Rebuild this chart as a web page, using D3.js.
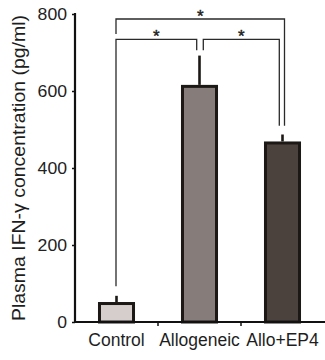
<!DOCTYPE html>
<html><head><meta charset="utf-8">
<script src="https://cdn.jsdelivr.net/npm/d3@7"></script>
<style>body{margin:0;background:#fff}svg{display:block}text{font-family:"Liberation Sans",Arial,sans-serif}</style>
</head><body>
<script>
const categories = ["Control", "Allogeneic", "Allo+EP4"];
const values = [48, 612, 465];
const errors = [20, 80, 22];
const colors = ["#d6cecd", "#867c7a", "#4b423e"];
const yTicks = [0, 200, 400, 600, 800];
const yLabel = "Plasma IFN-\u03b3 concentration (pg/ml)";
// significance brackets: level and leg ends in data units
const bracketFrom = ["Control", "Allogeneic", "Control"];
const bracketTo = ["Allogeneic", "Allo+EP4", "Allo+EP4"];
const bracketLevel = [734, 734, 787];
const bracketLeftEnd = [93, 706, 748];
const bracketRightEnd = [706, 510, 510];
const bracketLabel = ["*", "*", "*"];

const W = 325, H = 360;
const svg = d3.select("body").append("svg").attr("width", W).attr("height", H);

const y = d3.scaleLinear().domain([0, 800]).range([322, 14]);
const xOuter = d3.scaleBand().domain(categories).range([75, 324]);
const x = d3.scaleBand().domain(categories).range([75, 324]).paddingInner(0.59).paddingOuter(0.295);

// bars
svg.selectAll("rect.bar").data(categories).join("rect")
  .attr("class", "bar")
  .attr("x", d => x(d))
  .attr("y", (d, i) => y(values[i]))
  .attr("width", x.bandwidth())
  .attr("height", (d, i) => y(0) - y(values[i]))
  .attr("fill", (d, i) => colors[i])
  .attr("stroke", "#1c1816").attr("stroke-width", 3);

// error bars
svg.selectAll("line.err").data(categories).join("line")
  .attr("class", "err")
  .attr("x1", d => x(d) + x.bandwidth() / 2).attr("x2", d => x(d) + x.bandwidth() / 2)
  .attr("y1", (d, i) => y(values[i]) - 1.5)
  .attr("y2", (d, i) => y(values[i] + errors[i]))
  .attr("stroke", "#1c1816").attr("stroke-width", 2.6);

// y axis
const yAxis = svg.append("g").attr("transform", "translate(75,0)")
  .call(d3.axisLeft(y).tickValues(yTicks).tickSize(3).tickPadding(5));
yAxis.select(".domain").remove();
yAxis.selectAll(".tick line").attr("stroke", "#111").attr("stroke-width", 1.5);
yAxis.selectAll(".tick text").attr("font-size", 16.5).attr("fill", "#222")
  .attr("font-family", '"Liberation Sans",Arial,sans-serif')
  .attr("textLength", d => String(d).length * 9.8).attr("lengthAdjust", "spacingAndGlyphs");
svg.append("line").attr("x1", 75).attr("x2", 75).attr("y1", y(800) - 1).attr("y2", y(0) + 1)
  .attr("stroke", "#111").attr("stroke-width", 2.2);

// x axis
svg.append("line").attr("x1", 74).attr("x2", 325).attr("y1", y(0)).attr("y2", y(0))
  .attr("stroke", "#111").attr("stroke-width", 2.2);
svg.selectAll("line.xt").data(categories.slice(1)).join("line")
  .attr("class", "xt")
  .attr("x1", d => xOuter(d)).attr("x2", d => xOuter(d))
  .attr("y1", y(0)).attr("y2", y(0) + 4)
  .attr("stroke", "#111").attr("stroke-width", 1.5);
svg.selectAll("text.xl").data(categories).join("text")
  .attr("class", "xl")
  .attr("x", d => x(d) + x.bandwidth() / 2)
  .attr("y", 346)
  .attr("text-anchor", "middle")
  .attr("font-size", 17.5).attr("fill", "#1e1e1e")
  .text(d => d);

// y label
svg.append("text")
  .attr("transform", "translate(25," + ((y(0) + y(800)) / 2) + ") rotate(-90)")
  .attr("text-anchor", "middle")
  .attr("font-size", 17.5).attr("fill", "#1e1e1e")
  .attr("textLength", 306).attr("lengthAdjust", "spacingAndGlyphs")
  .text(yLabel);

// brackets
const cx = c => x(c) + x.bandwidth() / 2;
bracketFrom.forEach((f, i) => {
  const t = bracketTo[i];
  let x1 = cx(f), x2 = cx(t);
  if (i === 0) { x1 -= 0.5; x2 -= 2.8; }
  if (i === 1) { x1 += 3.8; x2 -= 3.2; }
  if (i === 2) { x1 -= 0.5; x2 += 2; }
  const ly = y(bracketLevel[i]);
  svg.append("path")
    .attr("d", `M${x1},${y(bracketLeftEnd[i])}V${ly}H${x2}V${y(bracketRightEnd[i])}`)
    .attr("fill", "none").attr("stroke", "#2a2a2a").attr("stroke-width", 1.3);
  svg.append("text")
    .attr("x", (x1 + x2) / 2).attr("y", ly + 3)
    .attr("text-anchor", "middle").attr("font-size", 17).attr("fill", "#222")
    .attr("stroke", "#222").attr("stroke-width", 0.4)
    .text(bracketLabel[i]);
});
</script>
</body></html>
